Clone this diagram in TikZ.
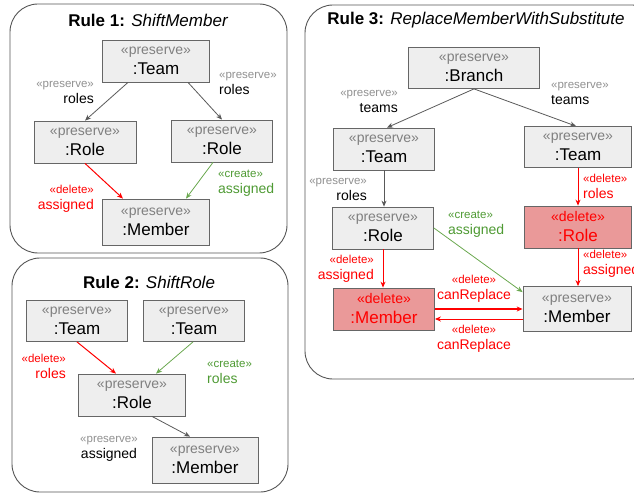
\documentclass[tikz,border=0pt]{standalone}
\usepackage{fontspec}
\setmainfont{Liberation Sans}
\usetikzlibrary{arrows.meta}
\definecolor{boxfill}{HTML}{EEEEEE}
\definecolor{boxdraw}{HTML}{666666}
\definecolor{delfill}{HTML}{EA9999}
\definecolor{stgray}{HTML}{808080}
\definecolor{lgray}{HTML}{909090}
\definecolor{edgegray}{HTML}{595959}
\definecolor{panelgray}{HTML}{555555}
\definecolor{myred}{HTML}{FF0000}
\definecolor{mygreen}{HTML}{6AA84F}
\definecolor{greentext}{HTML}{4E9A33}
\newcommand\nst[1]{{\fontsize{14bp}{20bp}\selectfont #1}}
\newcommand\est[1]{{\fontsize{11.5bp}{16bp}\selectfont #1}}
\tikzset{
  cls/.style={draw=boxdraw, fill=boxfill, line width=0.8bp, inner sep=0pt, align=center,
    node font=\fontsize{17bp}{20bp}\selectfont, text=black},
  delcls/.style={cls, fill=delfill, text=myred},
  lbl/.style={inner sep=0pt, node font=\fontsize{14bp}{16bp}\selectfont},
  panel/.style={draw=panelgray, rounded corners=28bp, line width=0.9bp},
  ttl/.style={inner sep=0pt, node font=\fontsize{17bp}{20bp}\selectfont},
  pre/.style={draw=edgegray, line width=0.8bp, -{Stealth[length=6bp,width=5bp]}},
  delarr/.style={draw=myred, line width=1bp, -{Stealth[length=6bp,width=5bp]}},
  crarr/.style={draw=mygreen, line width=0.8bp, -{Stealth[length=6bp,width=5bp]}},
}
\begin{document}
\begin{tikzpicture}[x=1bp,y=-1bp]
\useasboundingbox (0,0) rectangle (634,496);
% panels
\draw[panel] (10,4) rectangle (287,253);
\draw[panel] (12,258) rectangle (288,492);
\draw[panel] (305,5) rectangle (660,379);
% titles
\node[ttl] (t1) at (148,20) {\bfseries Rule 1: \mdseries\itshape ShiftMember};
\node[ttl] (t2) at (149,282) {\bfseries Rule 2: \mdseries\itshape ShiftRole};
\node[ttl] (t3) at (476,20) {\bfseries Rule 3: \mdseries\itshape ReplaceMemberWithSubstitute};

% ---------- Rule 1 ----------
\node[cls, minimum width=107bp, minimum height=42bp] (a_team) at (156,61) {\nst{\color{stgray}«preserve»}\\:Team};
\node[cls, minimum width=102bp, minimum height=42bp] (a_rl) at (85,142) {\nst{\color{stgray}«preserve»}\\:Role};
\node[cls, minimum width=101bp, minimum height=42bp] (a_rr) at (222,141) {\nst{\color{stgray}«preserve»}\\:Role};
\node[cls, minimum width=107bp, minimum height=46bp] (a_mem) at (156,222) {\nst{\color{stgray}«preserve»}\\:Member};
\draw[pre] ([xshift=-28bp]a_team.south) -- (a_rl.north);
\draw[pre] ([xshift=32bp]a_team.south) -- (a_rr.north);
\draw[delarr] (a_rl.south) -- ([xshift=-33bp]a_mem.north);
\draw[crarr] ([xshift=-9bp]a_rr.south) -- ([xshift=30bp]a_mem.north);
\node[lbl, align=right, anchor=east] (a_l1) at (94,92.5) {\est{\color{lgray}«preserve»}\\roles};
\node[lbl, align=left, anchor=west] (a_l2) at (219,83.5) {\est{\color{lgray}«preserve»}\\roles};
\node[lbl, align=right, anchor=east, text=myred] (a_l3) at (94,199) {\est{«delete»}\\assigned};
\node[lbl, align=left, anchor=west, text=greentext] (a_l4) at (218,183) {\est{«create»}\\assigned};

% ---------- Rule 2 ----------
\node[cls, minimum width=101bp, minimum height=41bp] (b_t1) at (77,321) {\nst{\color{stgray}«preserve»}\\:Team};
\node[cls, minimum width=101bp, minimum height=41bp] (b_t2) at (194,321) {\nst{\color{stgray}«preserve»}\\:Team};
\node[cls, minimum width=107bp, minimum height=42bp] (b_role) at (132,395) {\nst{\color{stgray}«preserve»}\\:Role};
\node[cls, minimum width=106bp, minimum height=46bp] (b_mem) at (205,460) {\nst{\color{stgray}«preserve»}\\:Member};
\draw[delarr] (b_t1.south) -- ([xshift=-16bp]b_role.north);
\draw[crarr] ([xshift=-1bp]b_t2.south) -- ([xshift=24bp]b_role.north);
\draw[pre] ([xshift=20bp]b_role.south) -- ([xshift=-15bp]b_mem.north);
\node[lbl, align=right, anchor=east, text=myred] (b_l1) at (66,366) {\est{«delete»}\\roles};
\node[lbl, align=left, anchor=west, text=greentext] (b_l2) at (207,372) {\est{«create»}\\roles};
\node[lbl, align=center] (b_l3) at (109,448.5) {\est{\color{lgray}«preserve»}\\assigned};

% ---------- Rule 3 ----------
\node[cls, minimum width=131bp, minimum height=41bp] (c_br) at (474,68) {\nst{\color{stgray}«preserve»}\\:Branch};
\node[cls, minimum width=101bp, minimum height=42bp] (c_tl) at (384,149) {\nst{\color{stgray}«preserve»}\\:Team};
\node[cls, minimum width=107bp, minimum height=41bp] (c_tr) at (578,147) {\nst{\color{stgray}«preserve»}\\:Team};
\node[cls, minimum width=101bp, minimum height=42bp] (c_rl) at (383,228) {\nst{\color{stgray}«preserve»}\\:Role};
\node[delcls, minimum width=107bp, minimum height=42bp] (c_rr) at (578,227) {\nst{«delete»}\\:Role};
\node[delcls, minimum width=101bp, minimum height=42bp] (c_ml) at (384,309) {\nst{«delete»}\\:Member};
\node[cls, minimum width=108bp, minimum height=45bp] (c_mr) at (577,309) {\nst{\color{stgray}«preserve»}\\:Member};
\draw[pre] (c_br.south) -- ([xshift=3bp]c_tl.north);
\draw[pre] (c_br.south) -- ([xshift=-2bp]c_tr.north);
\draw[pre] (c_tl.south) -- (c_tl.south |- c_rl.north);
\draw[delarr] (c_tr.south) -- (c_tr.south |- c_rr.north);
\draw[delarr] (c_rr.south) -- (c_rr.south |- c_mr.north);
\draw[delarr] (c_rl.south) -- (c_rl.south |- c_ml.north);
\draw[crarr] (c_rl.east) -- ([yshift=-6bp]c_mr.north west);
\draw[delarr, line width=1.4bp] (c_ml.east) -- (c_ml.east -| c_mr.west);
\draw[delarr] ([yshift=-10bp]c_mr.west) -- ([yshift=-10bp]c_mr.west -| c_ml.east);
\node[lbl, align=right, anchor=east] (c_l1) at (398,101) {\est{\color{lgray}«preserve»}\\teams};
\node[lbl, align=left, anchor=west] (c_l2) at (551,93) {\est{\color{lgray}«preserve»}\\teams};
\node[lbl, align=right, anchor=east] (c_l3) at (367,189.5) {\est{\color{lgray}«preserve»}\\roles};
\node[lbl, align=left, anchor=west, text=myred] (c_l4) at (583,186.5) {\est{«delete»}\\roles};
\node[lbl, align=left, anchor=west, text=myred] (c_l5) at (583,263.5) {\est{«delete»}\\assigned};
\node[lbl, align=right, anchor=east, text=myred] (c_l6) at (374,269) {\est{«delete»}\\assigned};
\node[lbl, align=left, anchor=west, text=greentext] (c_l7) at (448,224) {\est{«create»}\\assigned};
\node[lbl, align=center, text=myred] (c_l8) at (474,289) {\est{«delete»}\\canReplace};
\node[lbl, align=center, text=myred] (c_l9) at (474,338.5) {\est{«delete»}\\canReplace};
\end{tikzpicture}
\end{document}
